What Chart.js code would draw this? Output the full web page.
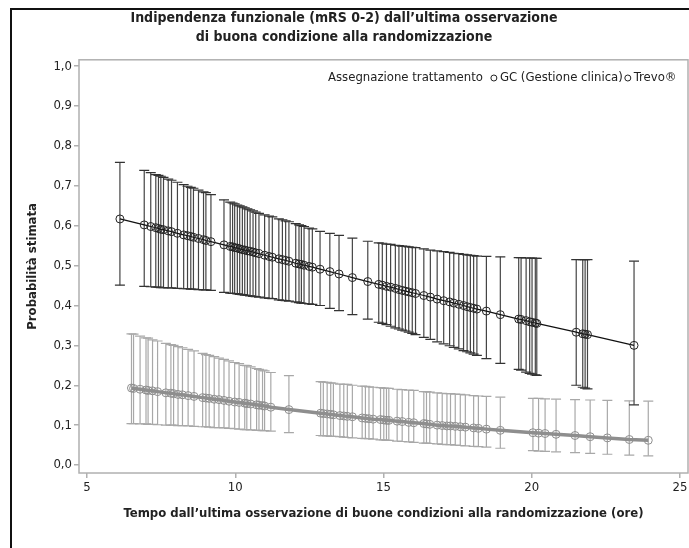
<!DOCTYPE html>
<html>
<head>
<meta charset="utf-8">
<script src="https://cdn.jsdelivr.net/npm/chart.js@4.4.1/dist/chart.umd.min.js"></script>
<style>
  html, body { margin: 0; padding: 0; background: #fff; overflow: hidden; }
  #wrap { position: relative; width: 689px; height: 548px; }
</style>
</head>
<body>
<div id="wrap"><canvas id="chart" width="689" height="548"></canvas></div>
<script>
// Trevo: ore, probabilità stimata, limiti inferiore / superiore
var trevoX  = [6.11, 6.93, 7.15, 7.32, 7.41, 7.49, 7.58, 7.74, 7.85, 8.05, 8.26, 8.39, 8.50, 8.59, 8.76, 8.93, 9.01, 9.18,
               9.62, 9.83, 9.91, 9.98, 10.07, 10.15, 10.24, 10.32, 10.41, 10.50, 10.60, 10.69, 10.80, 10.99, 11.14, 11.25,
               11.47, 11.59, 11.70, 11.81, 12.04, 12.15, 12.23, 12.32, 12.49, 12.60, 12.86, 13.19, 13.50, 13.95, 14.47,
               14.84, 14.96, 15.10, 15.24, 15.40, 15.52, 15.63, 15.74, 15.85, 15.97, 16.08, 16.36, 16.58, 16.81, 17.03,
               17.23, 17.37, 17.54, 17.70, 17.82, 17.93, 18.04, 18.15, 18.47, 18.94, 19.56, 19.64, 19.81, 19.93, 20.01,
               20.12, 20.17, 21.50, 21.72, 21.80, 21.88, 23.45];
var trevoY  = [0.617, 0.602, 0.598, 0.595, 0.593, 0.591, 0.590, 0.587, 0.585, 0.581, 0.577, 0.575, 0.573, 0.571, 0.568, 0.565, 0.563, 0.560,
               0.552, 0.548, 0.547, 0.545, 0.544, 0.542, 0.540, 0.539, 0.537, 0.536, 0.534, 0.532, 0.530, 0.526, 0.523, 0.521,
               0.517, 0.515, 0.513, 0.511, 0.506, 0.504, 0.503, 0.501, 0.498, 0.496, 0.491, 0.485, 0.479, 0.470, 0.460,
               0.453, 0.451, 0.448, 0.446, 0.443, 0.440, 0.438, 0.436, 0.434, 0.432, 0.430, 0.425, 0.421, 0.416, 0.412,
               0.409, 0.406, 0.403, 0.400, 0.397, 0.395, 0.393, 0.391, 0.386, 0.377, 0.366, 0.365, 0.362, 0.359, 0.358,
               0.356, 0.355, 0.333, 0.329, 0.328, 0.327, 0.300];
var trevoLo = [0.451, 0.448, 0.447, 0.446, 0.446, 0.445, 0.445, 0.444, 0.444, 0.443, 0.442, 0.442, 0.441, 0.441, 0.440, 0.439, 0.439, 0.438,
               0.433, 0.431, 0.430, 0.430, 0.429, 0.428, 0.427, 0.426, 0.425, 0.424, 0.423, 0.422, 0.421, 0.419, 0.418, 0.417,
               0.414, 0.413, 0.412, 0.411, 0.409, 0.407, 0.406, 0.405, 0.404, 0.403, 0.400, 0.393, 0.387, 0.377, 0.366,
               0.358, 0.355, 0.352, 0.348, 0.344, 0.341, 0.338, 0.336, 0.333, 0.330, 0.327, 0.320, 0.315, 0.309, 0.304,
               0.299, 0.295, 0.291, 0.287, 0.284, 0.281, 0.278, 0.275, 0.267, 0.255, 0.240, 0.238, 0.233, 0.230, 0.228,
               0.226, 0.225, 0.200, 0.195, 0.193, 0.191, 0.151];
var trevoHi = [0.759, 0.739, 0.733, 0.728, 0.726, 0.724, 0.721, 0.717, 0.714, 0.709, 0.703, 0.699, 0.696, 0.694, 0.689, 0.685, 0.683, 0.678,
               0.665, 0.659, 0.657, 0.655, 0.652, 0.650, 0.647, 0.645, 0.642, 0.640, 0.637, 0.634, 0.631, 0.627, 0.624, 0.622,
               0.617, 0.615, 0.612, 0.610, 0.605, 0.602, 0.600, 0.598, 0.594, 0.592, 0.586, 0.581, 0.576, 0.569, 0.561,
               0.557, 0.556, 0.554, 0.553, 0.551, 0.550, 0.549, 0.548, 0.547, 0.546, 0.545, 0.542, 0.539, 0.537, 0.535,
               0.533, 0.531, 0.530, 0.528, 0.527, 0.526, 0.525, 0.524, 0.523, 0.522, 0.520, 0.520, 0.519, 0.519, 0.519,
               0.518, 0.518, 0.515, 0.515, 0.515, 0.515, 0.511];

// GC (Gestione clinica)
var gcX  = [6.50, 6.57, 6.79, 6.99, 7.06, 7.21, 7.38, 7.66, 7.83, 7.92, 8.07, 8.22, 8.41, 8.61, 8.90, 9.01, 9.12, 9.29, 9.45,
            9.62, 9.79, 9.98, 10.13, 10.32, 10.39, 10.52, 10.72, 10.80, 10.92, 10.99, 11.20, 11.81, 12.88, 12.97, 13.10,
            13.22, 13.31, 13.53, 13.66, 13.78, 13.95, 14.28, 14.39, 14.51, 14.65, 14.90, 15.01, 15.10, 15.18, 15.46, 15.63,
            15.85, 16.02, 16.36, 16.45, 16.56, 16.81, 16.98, 17.14, 17.26, 17.42, 17.59, 17.76, 18.04, 18.20, 18.47, 18.94,
            20.04, 20.23, 20.45, 20.82, 21.46, 21.97, 22.55, 23.29, 23.93];
var gcY  = [0.193, 0.192, 0.190, 0.188, 0.187, 0.186, 0.184, 0.181, 0.180, 0.179, 0.177, 0.176, 0.174, 0.172, 0.169, 0.168, 0.167, 0.165, 0.164,
            0.162, 0.160, 0.158, 0.157, 0.155, 0.154, 0.153, 0.151, 0.150, 0.149, 0.148, 0.145, 0.139, 0.130, 0.129, 0.128,
            0.127, 0.126, 0.124, 0.123, 0.122, 0.121, 0.118, 0.117, 0.116, 0.115, 0.114, 0.113, 0.112, 0.112, 0.110, 0.109,
            0.107, 0.106, 0.104, 0.103, 0.102, 0.100, 0.099, 0.098, 0.098, 0.097, 0.096, 0.095, 0.093, 0.092, 0.090, 0.087,
            0.081, 0.080, 0.079, 0.077, 0.074, 0.071, 0.068, 0.064, 0.062];
var gcLo = [0.104, 0.104, 0.103, 0.103, 0.102, 0.102, 0.101, 0.100, 0.100, 0.100, 0.099, 0.099, 0.098, 0.097, 0.096, 0.096, 0.095, 0.094, 0.094,
            0.093, 0.092, 0.091, 0.090, 0.089, 0.089, 0.088, 0.087, 0.087, 0.086, 0.086, 0.085, 0.081, 0.074, 0.073, 0.073,
            0.072, 0.072, 0.071, 0.070, 0.069, 0.068, 0.067, 0.066, 0.066, 0.065, 0.063, 0.063, 0.062, 0.062, 0.060, 0.059,
            0.058, 0.057, 0.055, 0.055, 0.054, 0.053, 0.052, 0.051, 0.051, 0.050, 0.049, 0.048, 0.047, 0.046, 0.045, 0.042,
            0.036, 0.035, 0.034, 0.033, 0.031, 0.029, 0.027, 0.025, 0.023];
var gcHi = [0.329, 0.328, 0.323, 0.319, 0.318, 0.314, 0.311, 0.305, 0.302, 0.300, 0.297, 0.294, 0.290, 0.286, 0.280, 0.277, 0.275, 0.272, 0.268,
            0.265, 0.261, 0.257, 0.254, 0.250, 0.249, 0.246, 0.242, 0.240, 0.238, 0.236, 0.232, 0.224, 0.209, 0.208, 0.207,
            0.206, 0.205, 0.203, 0.202, 0.202, 0.200, 0.198, 0.197, 0.196, 0.195, 0.194, 0.193, 0.192, 0.192, 0.190, 0.189,
            0.188, 0.187, 0.184, 0.184, 0.183, 0.181, 0.180, 0.179, 0.179, 0.178, 0.177, 0.176, 0.174, 0.173, 0.172, 0.170,
            0.167, 0.167, 0.166, 0.165, 0.164, 0.163, 0.162, 0.161, 0.160];

var titleLines = ['Indipendenza funzionale (mRS 0-2) dall\u2019ultima osservazione', 'di buona condizione alla randomizzazione'];
var xTitle = 'Tempo dall\u2019ultima osservazione di buone condizioni alla randomizzazione (ore)';
var yTitle = 'Probabilit\u00e0 stimata';
var legendTitle = 'Assegnazione trattamento';
var seriesNames = ['GC (Gestione clinica)', 'Trevo\u00ae'];

var FONT = '"Liberation Sans Narrow", "DejaVu Sans Condensed", "Arial Narrow", sans-serif';

function pts(xs, ys) {
  return xs.map(function (x, i) { return { x: x, y: ys[i] }; });
}
function whiskers(xs, lo, hi) {
  var out = [];
  xs.forEach(function (x, i) {
    out.push({ x: x, y: lo[i] }, { x: x, y: hi[i] }, { x: x, y: null });
  });
  return out;
}
function caps(xs, lo, hi) {
  return pts(xs, lo).concat(pts(xs, hi));
}

var gcGrey = '#8e8e8e';
var gcBar = '#a8a8a8';
var trevoBar = '#444444';

var frame = {
  id: 'frame',
  beforeDraw: function (chart) {
    var ctx = chart.ctx;
    ctx.save();
    ctx.strokeStyle = '#111';
    ctx.lineWidth = 2;
    ctx.beginPath();
    ctx.moveTo(11, 560);
    ctx.lineTo(11, 9);
    ctx.lineTo(700, 9);
    ctx.stroke();
    ctx.restore();
  },
  afterDraw: function (chart) {
    var ctx = chart.ctx, a = chart.chartArea;
    ctx.save();
    ctx.strokeStyle = '#b0b0b0';
    ctx.lineWidth = 1.5;
    ctx.strokeRect(a.left, a.top, a.right - a.left, a.bottom - a.top);
    // legend
    ctx.font = '13px ' + FONT;
    ctx.fillStyle = '#222';
    ctx.textBaseline = 'middle';
    var y = 78, x = 328;
    ctx.fillText(legendTitle, x, y);
    x += ctx.measureText(legendTitle).width + 8;
    seriesNames.forEach(function (name) {
      ctx.beginPath();
      ctx.lineWidth = 1;
      ctx.strokeStyle = '#222';
      ctx.arc(x + 3, y, 3, 0, Math.PI * 2);
      ctx.stroke();
      x += 9;
      ctx.fillText(name, x, y);
      x += ctx.measureText(name).width + 2;
    });
    ctx.restore();
  }
};

new Chart(document.getElementById('chart'), {
  type: 'line',
  data: {
    datasets: [
      { label: seriesNames[1], data: pts(trevoX, trevoY), borderColor: '#111', borderWidth: 1.2,
        pointRadius: 4, pointBorderColor: '#222', pointBorderWidth: 1, pointBackgroundColor: 'rgba(255,255,255,0)', order: 1 },
      { label: 'trevoCaps', data: caps(trevoX, trevoLo, trevoHi), showLine: false, pointStyle: 'line',
        pointRadius: 5, pointBorderColor: '#333', pointBorderWidth: 1.2, order: 2 },
      { label: 'trevoBars', data: whiskers(trevoX, trevoLo, trevoHi), borderColor: trevoBar, borderWidth: 1.2,
        pointRadius: 0, spanGaps: false, order: 3 },
      { label: seriesNames[0], data: pts(gcX, gcY), borderColor: gcGrey, borderWidth: 3.5,
        pointRadius: 4, pointBorderColor: gcGrey, pointBorderWidth: 1, pointBackgroundColor: 'rgba(255,255,255,0)', order: 4 },
      { label: 'gcCaps', data: caps(gcX, gcLo, gcHi), showLine: false, pointStyle: 'line',
        pointRadius: 5, pointBorderColor: gcBar, pointBorderWidth: 1.2, order: 5 },
      { label: 'gcBars', data: whiskers(gcX, gcLo, gcHi), borderColor: gcBar, borderWidth: 1.2,
        pointRadius: 0, spanGaps: false, order: 6 }
    ]
  },
  options: {
    responsive: false,
    animation: false,
    events: [],
    layout: { autoPadding: false, padding: { left: 0, right: 1, top: 0, bottom: 0 } },
    plugins: {
      legend: { display: false },
      tooltip: { enabled: false },
      title: {
        display: true,
        text: titleLines,
        color: '#222',
        font: { family: FONT, size: 14, weight: 'bold', lineHeight: 1.35 },
        padding: { top: 9, bottom: 13 }
      }
    },
    scales: {
      x: {
        type: 'linear', min: 4.73, max: 25.27,
        afterFit: function (s) { s.height = 75; s.paddingLeft = 0; s.paddingRight = 0; },
        border: { display: false },
        grid: { drawOnChartArea: false, color: '#b0b0b0', tickLength: 5, lineWidth: 1.5 },
        ticks: { stepSize: 5, includeBounds: false, padding: 2, color: '#222', font: { family: FONT, size: 13 } },
        title: { display: true, text: xTitle, color: '#222', font: { family: FONT, size: 13, weight: 'bold' },
                 padding: { top: 0, bottom: 27 } }
      },
      y: {
        min: -0.02, max: 1.016,
        afterFit: function (s) { s.width = 79; },
        border: { display: false },
        grid: { drawOnChartArea: false, color: '#b0b0b0', tickLength: 5, lineWidth: 1.5 },
        ticks: { stepSize: 0.1, includeBounds: false, padding: 2, color: '#222', font: { family: FONT, size: 13 },
                 callback: function (v) { return v.toFixed(1).replace('.', ','); } },
        title: { display: true, text: yTitle, color: '#222', font: { family: FONT, size: 13, weight: 'bold' },
                 padding: { top: 25, bottom: 0 } }
      }
    }
  },
  plugins: [frame]
});
</script>
</body>
</html>
